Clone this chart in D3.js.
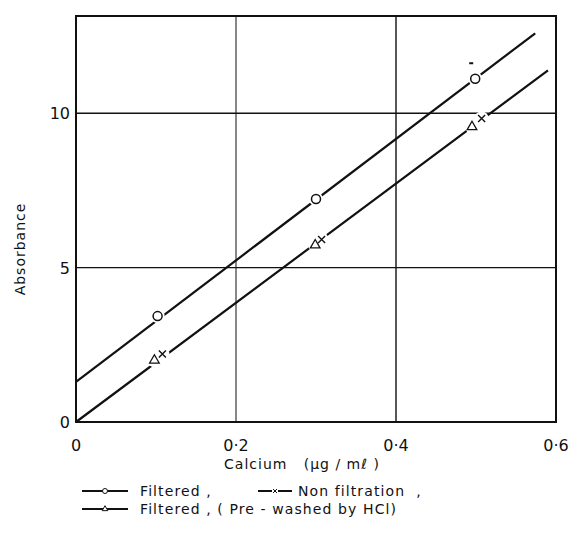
<!DOCTYPE html>
<html lang="en">
<head>
    <meta charset="UTF-8">
    <title>Calcium absorbance</title>
    <script src="https://d3js.org/d3.v7.min.js"></script>
    <style>
        body { margin: 0; background: #fff; }
        svg { display: block; }
        text { font-family: "DejaVu Sans", "Liberation Sans", Arial, sans-serif; fill: #111; }
    </style>
</head>
<body>
    <svg width="575" height="541"></svg>
    <script>
        // values
        const filtered = [[0.102, 3.43], [0.300, 7.22], [0.499, 11.12]];
        const nonFiltration = [[0.108, 2.2], [0.307, 5.91], [0.507, 9.83]];
        const preWashed = [[0.098, 2.0], [0.299, 5.73], [0.495, 9.56]];
        // the two drawn calibration lines (start, end)
        const upperLine = [[0, 1.30], [0.574, 12.59]];
        const lowerLine = [[0, 0], [0.590, 11.39]];
        const xTicks = [0, 0.2, 0.4, 0.6];
        const xTickLabels = ["0", "0·2", "0·4", "0·6"];
        const yTicks = [0, 5, 10];
        const yTickLabels = ["0", "5", "10"];

        const svg = d3.select("svg");
        const x = d3.scaleLinear().domain([0, 0.6]).range([76, 556]);
        const y = d3.scaleLinear().domain([0, 13.15]).range([422, 16]);
        const ink = "#111";

        // grid lines
        svg.selectAll(".vgrid").data([0.2, 0.4]).enter().append("line")
            .attr("x1", d => x(d)).attr("x2", d => x(d))
            .attr("y1", y(0)).attr("y2", y(13.15))
            .attr("stroke", ink).attr("stroke-width", d => d === 0.2 ? 1 : 1.4);
        svg.selectAll(".hgrid").data([5, 10]).enter().append("line")
            .attr("x1", x(0)).attr("x2", x(0.6))
            .attr("y1", d => y(d)).attr("y2", d => y(d))
            .attr("stroke", ink).attr("stroke-width", 1.4);

        // frame
        svg.append("rect")
            .attr("x", x(0)).attr("y", y(13.15))
            .attr("width", x(0.6) - x(0)).attr("height", y(0) - y(13.15))
            .attr("fill", "none").attr("stroke", ink).attr("stroke-width", 2);

        // calibration lines
        const line = d3.line().x(d => x(d[0])).y(d => y(d[1]));
        [upperLine, lowerLine].forEach(l => {
            svg.append("path").attr("d", line(l))
                .attr("fill", "none").attr("stroke", ink).attr("stroke-width", 2.2);
        });

        // white gaps round markers
        svg.selectAll(".gap").data(filtered.concat(nonFiltration, preWashed)).enter().append("circle")
            .attr("cx", d => x(d[0])).attr("cy", d => y(d[1])).attr("r", 7)
            .attr("fill", "#fff");

        // markers
        svg.selectAll(".circ").data(filtered).enter().append("circle")
            .attr("cx", d => x(d[0])).attr("cy", d => y(d[1])).attr("r", 4.5)
            .attr("fill", "#fff").attr("stroke", ink).attr("stroke-width", 1.5);
        svg.selectAll(".cross").data(nonFiltration).enter().append("path")
            .attr("d", "M-3.5,-3.5L3.5,3.5M-3.5,3.5L3.5,-3.5")
            .attr("transform", d => `translate(${x(d[0])},${y(d[1])})`)
            .attr("stroke", ink).attr("stroke-width", 1.4);
        svg.selectAll(".tri").data(preWashed).enter().append("path")
            .attr("d", d3.symbol().type(d3.symbolTriangle).size(40))
            .attr("transform", d => `translate(${x(d[0])},${y(d[1])})`)
            .attr("fill", "#fff").attr("stroke", ink).attr("stroke-width", 1.3);

        // stray dash above the top circle
        svg.append("line").attr("x1", x(0.4915)).attr("x2", x(0.4965))
            .attr("y1", y(11.62)).attr("y2", y(11.62))
            .attr("stroke", ink).attr("stroke-width", 2);

        // tick labels
        svg.selectAll(".xt").data(xTicks).enter().append("text")
            .attr("x", d => x(d)).attr("y", y(0) + 29)
            .attr("text-anchor", "middle").attr("font-size", 16)
            .text((d, i) => xTickLabels[i]);
        svg.selectAll(".yt").data(yTicks).enter().append("text")
            .attr("x", x(0) - 6).attr("y", d => y(d) + 6)
            .attr("text-anchor", "end").attr("font-size", 16)
            .text((d, i) => yTickLabels[i]);

        // axis titles
        svg.append("text")
            .attr("transform", "translate(25,249) rotate(-90)")
            .attr("text-anchor", "middle").attr("font-size", 14)
            .attr("letter-spacing", 1)
            .text("Absorbance");
        svg.append("text")
            .attr("x", 302).attr("y", 469)
            .attr("text-anchor", "middle").attr("font-size", 14)
            .attr("letter-spacing", 1)
            .attr("xml:space", "preserve")
            .text("Calcium   (μg / mℓ )");

        // legend
        const legend = [
            { sx: 82, y: 496, mark: "circle", label: "Filtered ,", tx: 140 },
            { sx: 258, y: 496, mark: "cross", label: "Non filtration  ,", tx: 298 },
            { sx: 82, y: 514, mark: "tri", label: "Filtered , ( Pre - washed by HCl)", tx: 140 }
        ];
        legend.forEach(l => {
            const w = l.mark === "cross" ? 34 : 46;
            svg.append("line").attr("x1", l.sx).attr("x2", l.sx + w)
                .attr("y1", l.y - 5).attr("y2", l.y - 5)
                .attr("stroke", ink).attr("stroke-width", 2);
            const cx = l.sx + w / 2, cy = l.y - 5;
            if (l.mark === "circle") {
                svg.append("circle").attr("cx", cx).attr("cy", cy).attr("r", 2.5)
                    .attr("fill", "#fff").attr("stroke", ink).attr("stroke-width", 1);
            } else if (l.mark === "cross") {
                svg.append("rect").attr("x", cx - 3).attr("y", cy - 3).attr("width", 6).attr("height", 6).attr("fill", "#fff");
                svg.append("path").attr("d", `M${cx - 2},${cy - 2}L${cx + 2},${cy + 2}M${cx - 2},${cy + 2}L${cx + 2},${cy - 2}`)
                    .attr("stroke", ink).attr("stroke-width", 1);
            } else {
                svg.append("path").attr("d", d3.symbol().type(d3.symbolTriangle).size(14))
                    .attr("transform", `translate(${cx},${cy})`)
                    .attr("fill", "#fff").attr("stroke", ink).attr("stroke-width", 1);
            }
            svg.append("text").attr("x", l.tx).attr("y", l.y)
                .attr("font-size", 14).attr("letter-spacing", 1.1)
                .attr("xml:space", "preserve")
                .text(l.label);
        });
    </script>
</body>
</html>
